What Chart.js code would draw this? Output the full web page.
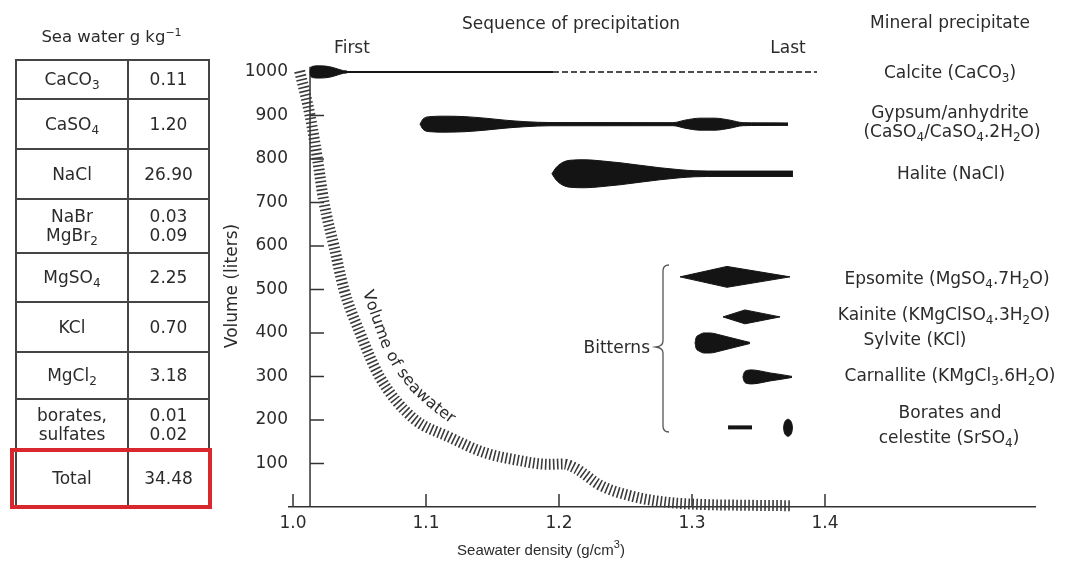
<!DOCTYPE html>
<html><head><meta charset="utf-8">
<script src="https://cdn.jsdelivr.net/npm/chart.js@4.4.1/dist/chart.umd.min.js"></script>
<style>
html,body{margin:0;padding:0;background:#fff;}
#wrap{position:relative;width:1067px;height:565px;overflow:hidden;font-family:"DejaVu Sans",sans-serif;color:#2b2b2b;}
#c{position:absolute;left:0;top:0;}
#tblTitle{position:absolute;left:13px;width:197px;top:27px;text-align:center;font-size:16.5px;line-height:20px;}
#tblTitle sup{font-size:11px;vertical-align:6px;line-height:0;}
#tbl{position:absolute;left:15px;top:59px;border-collapse:collapse;table-layout:fixed;font-size:17px;}
#tbl td{border:2px solid #454545;text-align:center;padding:0;line-height:19px;}
#tbl sub{font-size:12px;vertical-align:-4px;line-height:0;}
#red{position:absolute;left:10px;top:448px;width:202px;height:61px;border:4px solid #d9272e;box-sizing:border-box;}
</style></head>
<body>
<div id="wrap">
<canvas id="c" width="1067" height="565"></canvas>
<div id="tblTitle">Sea water g kg<sup>−1</sup></div>
<table id="tbl"><colgroup><col style="width:112px"><col style="width:81px"></colgroup><tbody id="tb"></tbody></table>
<div id="red"></div>
</div>
<script>
// ---------- DATA ----------
const tableCompounds = ['CaCO_3','CaSO_4','NaCl','NaBr|MgBr_2','MgSO_4','KCl','MgCl_2','borates,|sulfates','Total'];
const tableValues    = ['0.11','1.20','26.90','0.03|0.09','2.25','0.70','3.18','0.01|0.02','34.48'];

const densityTicks = [1.0, 1.1, 1.2, 1.3, 1.4];
const volumeTicks  = [100, 200, 300, 400, 500, 600, 700, 800, 900, 1000];

// Volume of seawater curve (density g/cm3, volume litres)
const seawaterDensity = [1.005, 1.0128, 1.0184, 1.0233, 1.0308, 1.0383, 1.0504, 1.065, 1.09, 1.118, 1.143, 1.168, 1.193, 1.203, 1.213, 1.231, 1.256, 1.281, 1.306, 1.34, 1.375];
const seawaterVolume  = [1002, 900, 800, 700, 600, 500, 400, 300, 205, 160, 126, 108, 98, 99, 88, 50, 24, 11, 6, 4, 3];

// Mineral precipitation bands: level (litres), density samples, half-thickness (litres)
const calciteVolume = 1000;
const calciteDensity = [1.0128, 1.0133, 1.0150, 1.0188, 1.0241, 1.0290, 1.0340, 1.0380, 1.0406];
const calciteHalf    = [0, 9, 13, 14, 13.5, 11, 6.5, 3, 2.3];
const calciteSolid   = [1.0406, 1.1955];
const calciteDashed  = [1.1955, 1.394];

const gypsumVolume = 880;
const gypsumDensity = [1.0955, 1.0977, 1.1030, 1.1143, 1.1293, 1.1444, 1.1594, 1.1744, 1.1932, 1.2857, 1.2947, 1.3060, 1.3173, 1.3286, 1.3383, 1.3511, 1.3722];
const gypsumHalf    = [0, 11.5, 17.3, 18.4, 17.3, 13.8, 9.2, 5.8, 3.7, 3.5, 9.2, 13.8, 13.8, 9.2, 3.5, 3, 2.8];

const haliteVolume = 766;
const haliteDensity = [1.1947, 1.1977, 1.2023, 1.2083, 1.2195, 1.2308, 1.2459, 1.2609, 1.2759, 1.2910, 1.3023, 1.3211, 1.3759];
const haliteHalf    = [0, 13.8, 25.3, 31, 32.2, 29.9, 25.3, 19.5, 13.8, 9.2, 6.9, 6.2, 6.2];

const epsomiteVolume = 529;
const epsomiteDensity = [1.2910, 1.3263, 1.3737];
const epsomiteHalf    = [0, 24, 0];

const kainiteVolume = 437;
const kainiteDensity = [1.3233, 1.3398, 1.3662];
const kainiteHalf    = [0, 16, 0];

const sylviteVolume = 377;
const sylviteDensity = [1.3023, 1.3030, 1.3053, 1.3090, 1.3135, 1.3211, 1.3286, 1.3361, 1.3436];
const sylviteHalf    = [0, 11.5, 18.4, 23, 23, 18.4, 12.6, 6.9, 1.2];

const carnalliteVolume = 299;
const carnalliteDensity = [1.3383, 1.3391, 1.3414, 1.3451, 1.3511, 1.3586, 1.3662, 1.3752];
const carnalliteHalf    = [0, 9.2, 15, 16.1, 13.8, 9.2, 5.8, 1.2];

const boratesVolume = 183;
const boratesDensity = [1.3271, 1.3451];

const celestiteVolume = 182;
const celestiteDensity = [1.3688, 1.3692, 1.3707, 1.3722, 1.3737, 1.3752, 1.3756];
const celestiteHalf    = [0, 8, 17.3, 19.6, 17.3, 8, 0];

// ---------- TABLE ----------
const rowHeights = [39, 50, 50, 54, 49, 50, 47, 52, 55];
const rich = s => s.split('|').map(l => l.replace(/_(\d)/g, '<sub>$1</sub>')).join('<br>');
document.getElementById('tb').innerHTML = tableCompounds.map((c, i) =>
  `<tr style="height:${rowHeights[i]}px"><td>${rich(c)}</td><td>${rich(tableValues[i])}</td></tr>`).join('');

// ---------- CHART ----------
const INK = '#141414', AXC = '#333', TXT = '#2b2b2b', FONT = '"DejaVu Sans", sans-serif';
const yAxisDensity = 1.0128, yAxisTop = 1012;

function band(d, half, vol, smooth) {
  const common = {borderColor: INK, borderWidth: 1, pointRadius: 0, backgroundColor: INK,
    cubicInterpolationMode: smooth ? 'monotone' : 'default', tension: 0, order: 0};
  return [
    Object.assign({data: d.map((x, i) => ({x, y: vol + half[i]})), fill: false}, common),
    Object.assign({data: d.map((x, i) => ({x, y: vol - half[i]})), fill: '-1'}, common)
  ];
}
const seg = (d, vol, w, dash) => ({data: d.map(x => ({x, y: vol})), borderColor: INK, borderWidth: w,
  borderDash: dash || [], pointRadius: 0, fill: false, order: 0});

const datasets = [
  {data: seawaterDensity.map((x, i) => ({x, y: seawaterVolume[i]})), borderColor: '#3a3a3a', borderWidth: 11,
   borderDash: [1.6, 2.4], borderCapStyle: 'butt', pointRadius: 0, fill: false, cubicInterpolationMode: 'monotone', order: 10, clip: false},
  seg(calciteSolid, calciteVolume, 2),
  seg(calciteDashed, calciteVolume, 1.6, [6, 3]),
  ...band(calciteDensity, calciteHalf, calciteVolume, true),
  ...band(gypsumDensity, gypsumHalf, gypsumVolume, true),
  ...band(haliteDensity, haliteHalf, haliteVolume, true),
  ...band(epsomiteDensity, epsomiteHalf, epsomiteVolume, false),
  ...band(kainiteDensity, kainiteHalf, kainiteVolume, false),
  ...band(sylviteDensity, sylviteHalf, sylviteVolume, true),
  ...band(carnalliteDensity, carnalliteHalf, carnalliteVolume, true),
  seg(boratesDensity, boratesVolume, 4),
  ...band(celestiteDensity, celestiteHalf, celestiteVolume, true)
];

function parseRich(s) {
  const parts = []; let buf = '', i = 0;
  while (i < s.length) {
    const c = s[i];
    if (c === '_' || c === '^') {
      if (buf) { parts.push({t: buf, k: 0}); buf = ''; }
      let t;
      if (s[i + 1] === '{') { const e = s.indexOf('}', i + 1); t = s.slice(i + 2, e); i = e + 1; }
      else { t = s[i + 1]; i += 2; }
      parts.push({t, k: c === '_' ? 1 : 2});
    } else { buf += c; i++; }
  }
  if (buf) parts.push({t: buf, k: 0});
  return parts;
}
function drawRich(ctx, s, x, y, align, size, family) {
  family = family || FONT;
  const parts = parseRich(s), small = Math.round(size * 0.7);
  let total = 0;
  parts.forEach(p => { ctx.font = `${p.k ? small : size}px ${family}`; p.w = ctx.measureText(p.t).width; total += p.w; });
  let cx = align === 'center' ? x - total / 2 : align === 'right' ? x - total : x;
  ctx.textAlign = 'left'; ctx.textBaseline = 'middle';
  parts.forEach(p => {
    ctx.font = `${p.k ? small : size}px ${family}`;
    const dy = p.k === 1 ? size * 0.3 : p.k === 2 ? -size * 0.42 : 0;
    ctx.fillText(p.t, cx, y + dy); cx += p.w;
  });
}
// text laid along a guide polyline (label of the seawater curve)
function drawOnPath(ctx, text, pts, start, font) {
  ctx.font = font;
  const segs = []; let L = 0;
  for (let i = 0; i < pts.length - 1; i++) {
    const [x0, y0] = pts[i], [x1, y1] = pts[i + 1];
    const l = Math.hypot(x1 - x0, y1 - y0); segs.push({x0, y0, x1, y1, l, s: L}); L += l;
  }
  const at = d => {
    d = Math.max(0, Math.min(L, d));
    let sg = segs[segs.length - 1];
    for (const s of segs) { if (d <= s.s + s.l) { sg = s; break; } }
    const t = (d - sg.s) / sg.l;
    return [sg.x0 + (sg.x1 - sg.x0) * t, sg.y0 + (sg.y1 - sg.y0) * t];
  };
  let d = start;
  for (const ch of text) {
    const w = ctx.measureText(ch).width, mid = d + w / 2;
    const [x, y] = at(mid), a = at(mid - 6), b = at(mid + 6);
    ctx.save(); ctx.translate(x, y); ctx.rotate(Math.atan2(b[1] - a[1], b[0] - a[0]));
    ctx.textAlign = 'center'; ctx.textBaseline = 'middle'; ctx.fillText(ch, 0, 0); ctx.restore();
    d += w;
  }
}

const decor = {
  id: 'decor',
  beforeDatasetsDraw(chart) {
    const {ctx, scales: {x, y}} = chart;
    ctx.save();
    ctx.strokeStyle = AXC; ctx.lineWidth = 1.5;
    const ax = x.getPixelForValue(yAxisDensity);
    ctx.beginPath();
    ctx.moveTo(ax, y.getPixelForValue(0)); ctx.lineTo(ax, y.getPixelForValue(yAxisTop));
    y.ticks.forEach(t => { const py = y.getPixelForValue(t.value); ctx.moveTo(ax, py); ctx.lineTo(ax + 14, py); });
    const by = y.getPixelForValue(0);
    x.ticks.forEach(t => { const px = x.getPixelForValue(t.value); ctx.moveTo(px, by); ctx.lineTo(px, by - 13); });
    ctx.stroke();
    ctx.restore();
  },
  afterDraw(chart) {
    const {ctx} = chart;
    ctx.save();
    ctx.fillStyle = TXT;
    drawRich(ctx, 'Sequence of precipitation', 571, 25, 'center', 17);
    drawRich(ctx, 'First', 352, 49, 'center', 17);
    drawRich(ctx, 'Last', 788, 49, 'center', 17);
    drawRich(ctx, 'Mineral precipitate', 950, 24, 'center', 17);
    drawRich(ctx, 'Calcite (CaCO_3)', 950, 74, 'center', 17);
    drawRich(ctx, 'Gypsum/anhydrite', 950, 114, 'center', 17);
    drawRich(ctx, '(CaSO_4/CaSO_4.2H_2O)', 952, 133, 'center', 17);
    drawRich(ctx, 'Halite (NaCl)', 951, 175, 'center', 17);
    drawRich(ctx, 'Epsomite (MgSO_4.7H_2O)', 947, 280, 'center', 17);
    drawRich(ctx, 'Kainite (KMgClSO_4.3H_2O)', 944, 316, 'center', 17);
    drawRich(ctx, 'Sylvite (KCl)', 915, 341, 'center', 17);
    drawRich(ctx, 'Carnallite (KMgCl_3.6H_2O)', 950, 377, 'center', 17);
    drawRich(ctx, 'Borates and', 950, 414, 'center', 17);
    drawRich(ctx, 'celestite (SrSO_4)', 949, 439, 'center', 17);
    drawRich(ctx, 'Bitterns', 650, 349, 'right', 17);
    drawRich(ctx, 'Seawater density (g/cm^3)', 541, 551, 'center', 15, '"Liberation Sans", Arial, sans-serif');
    // brace
    ctx.strokeStyle = '#555'; ctx.lineWidth = 1.3;
    ctx.beginPath();
    ctx.moveTo(669, 265); ctx.quadraticCurveTo(663, 265, 663, 271);
    ctx.lineTo(663, 341); ctx.quadraticCurveTo(663, 346, 656, 347);
    ctx.quadraticCurveTo(663, 348, 663, 353);
    ctx.lineTo(663, 426); ctx.quadraticCurveTo(663, 432, 669, 432);
    ctx.stroke();
    // label following the seawater curve
    drawOnPath(ctx, 'Volume of seawater', [[366, 289], [376, 318], [386, 346], [399, 369], [415, 389], [435, 407], [460, 425]], 2, `16px ${FONT}`);
    ctx.restore();
  }
};

new Chart(document.getElementById('c'), {
  type: 'line',
  data: {datasets},
  options: {
    responsive: false, animation: false, parsing: true,
    layout: {padding: {left: 222, top: 65, right: 32, bottom: 0}},
    plugins: {legend: {display: false}, tooltip: {enabled: false}},
    scales: {
      x: {type: 'linear', min: 0.99699, max: 1.5579,
        afterBuildTicks: s => { s.ticks = densityTicks.map(v => ({value: v})); },
        afterFit: s => { s.height = 58; },
        grid: {display: false, drawTicks: false},
        border: {display: true, color: AXC, width: 1.5},
        ticks: {padding: 6, color: TXT, font: {family: FONT, size: 17}, maxRotation: 0, autoSkip: false,
          callback: v => Number(v).toFixed(1)}
      },
      y: {type: 'linear', min: 0, max: 1016,
        afterBuildTicks: s => { s.ticks = volumeTicks.map(v => ({value: v})); },
        afterFit: s => { s.width = 67; },
        grid: {display: false, drawTicks: false},
        border: {display: false},
        ticks: {padding: 1, color: TXT, font: {family: FONT, size: 17}, autoSkip: false, callback: v => String(v)},
        title: {display: true, text: 'Volume (liters)', color: TXT, font: {family: FONT, size: 17}, padding: 0}
      }
    }
  },
  plugins: [decor]
});
</script>
</body></html>
